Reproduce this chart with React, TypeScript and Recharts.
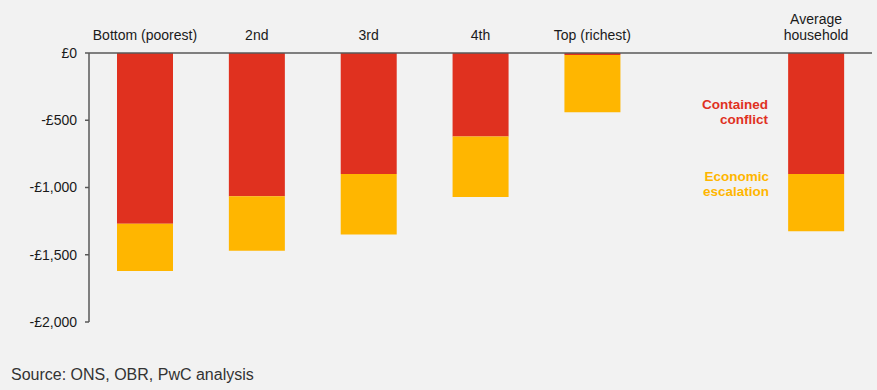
import React from "react";
import { BarChart, Bar, XAxis, YAxis } from "recharts";

const categories = ["Bottom (poorest)", "2nd", "3rd", "4th", "Top (richest)", " ", "Average\nhousehold"];
const containedConflict = [-1270, -1065, -900, -620, -15, 0, -900];
const economicEscalation = [-350, -405, -450, -450, -425, 0, -425];
const yTicks = [0, -500, -1000, -1500, -2000];

const RED = "#e0311f";
const YELLOW = "#ffb600";
const FONT = "'Liberation Sans', Arial, sans-serif";

const data = categories.map((name, i) => ({
	name,
	contained: containedConflict[i],
	escalation: economicEscalation[i],
}));

const fmtPound = (v: number) => {
	if (v === 0) return "£0";
	const s = Math.abs(v).toLocaleString("en-GB");
	return (v < 0 ? "-£" : "£") + s;
};

// category labels sit above the zero line, multi-line ones grow upwards
const TopTick = ({ x, y, payload }: any) => {
	const lines = String(payload.value).split("\n");
	const base = y - 5;
	return (
		<text x={x} textAnchor="middle" fontSize={14} fill="#1a1a1a" fontFamily={FONT}>
			{lines.map((l, i) => (
				<tspan key={i} x={x} y={base - (lines.length - 1 - i) * 16}>
					{l}
				</tspan>
			))}
		</text>
	);
};

export default function App() {
	return (
		<div style={{ position: "relative", width: 877, height: 390, background: "#f2f2f2", fontFamily: FONT }}>
			<style>{"body{margin:0;background:#f2f2f2}"}</style>
			<BarChart
				width={877}
				height={390}
				data={data}
				margin={{ top: 0, right: 5, bottom: 68, left: 0 }}
				barSize={56}>
				<XAxis
					dataKey="name"
					orientation="top"
					height={53}
					tickLine={false}
					interval={0}
					axisLine={{ stroke: "#595959", strokeWidth: 1.5 }}
					tick={<TopTick />}
				/>
				<YAxis
					domain={[-2000, 0]}
					ticks={yTicks}
					width={89}
					tickSize={4}
					tickMargin={8}
					tickFormatter={fmtPound}
					axisLine={{ stroke: "#595959", strokeWidth: 1.5 }}
					tickLine={{ stroke: "#595959", strokeWidth: 1.5 }}
					tick={{ fontSize: 14, fill: "#1a1a1a", fontFamily: FONT }}
				/>
				<Bar dataKey="contained" stackId="a" fill={RED} isAnimationActive={false} />
				<Bar dataKey="escalation" stackId="a" fill={YELLOW} isAnimationActive={false} />
			</BarChart>
			<div
				style={{
					position: "absolute",
					right: 877 - 768,
					top: 97,
					textAlign: "right",
					color: RED,
					fontWeight: "bold",
					fontSize: 13.5,
					lineHeight: "15px",
				}}>
				Contained
				<br />
				conflict
			</div>
			<div
				style={{
					position: "absolute",
					right: 877 - 769,
					top: 169,
					textAlign: "right",
					color: YELLOW,
					fontWeight: "bold",
					fontSize: 13.5,
					lineHeight: "15px",
				}}>
				Economic
				<br />
				escalation
			</div>
			<div style={{ position: "absolute", left: 11, top: 366, fontSize: 16, color: "#333" }}>
				Source: ONS, OBR, PwC analysis
			</div>
		</div>
	);
}
